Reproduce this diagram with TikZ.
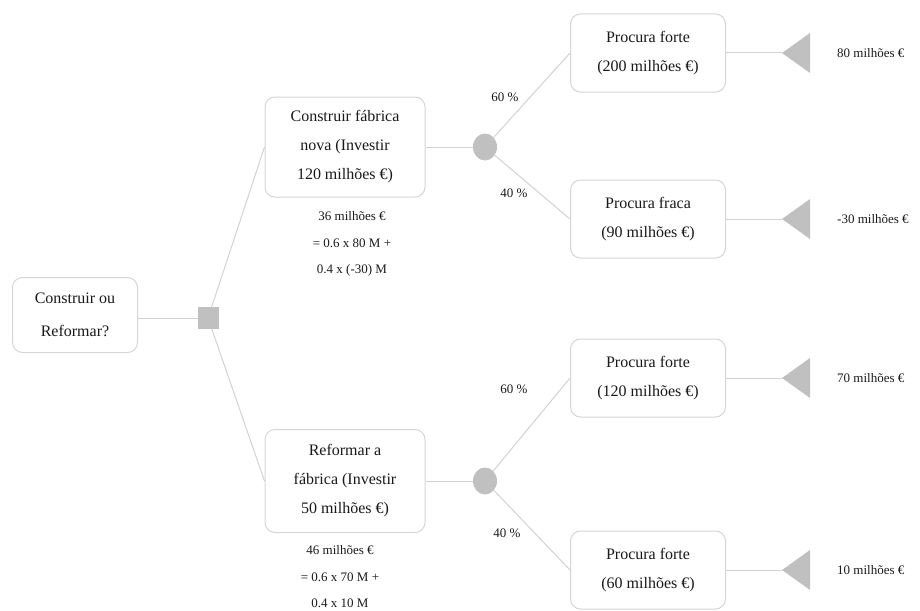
\documentclass[tikz,border=0pt]{standalone}
\usepackage{fontspec}
\setmainfont{Liberation Serif}
\usetikzlibrary{shapes.geometric}
\definecolor{edgegray}{RGB}{210,210,210}
\definecolor{shapegray}{RGB}{192,192,192}
\definecolor{boxline}{RGB}{214,214,214}
\definecolor{textdark}{RGB}{25,25,25}
\begin{document}
\begin{tikzpicture}[x=1pt,y=-1pt,
  box/.style={draw=boxline, line width=1pt, rounded corners=10pt, fill=white,
    align=center, inner sep=0pt, text=textdark, font=\fontsize{16}{29}\selectfont},
  outcome/.style={box, minimum width=155pt, minimum height=78pt},
  link/.style={draw=edgegray, line width=1pt},
  chance/.style={ellipse, fill=shapegray, minimum width=24pt, minimum height=27pt, inner sep=0pt, outer sep=0pt},
  decision/.style={rectangle, fill=shapegray, minimum width=21pt, minimum height=22pt, inner sep=0pt, outer sep=0pt},
  payoff/.style={isosceles triangle, shape border rotate=180, isosceles triangle stretches,
    fill=shapegray, minimum width=40pt, minimum height=28pt, inner sep=0pt, outer sep=0pt, anchor=apex},
  note/.style={align=center, inner sep=0pt, text=textdark, font=\fontsize{13}{26.5}\selectfont},
  value/.style={anchor=west, inner sep=0pt, text=textdark, font=\fontsize{13}{15}\selectfont},
  prob/.style={inner sep=0pt, text=textdark, font=\fontsize{13}{15}\selectfont}]
\useasboundingbox (0,0) rectangle (920,610);

% decision root
\node[box, minimum width=125pt, minimum height=75pt, font=\fontsize{16}{33}\selectfont] (root) at (75,315) {Construir ou\\Reformar?};
\node[decision] (dec) at (208,318) {};

% the two options
\node[box, minimum width=160pt, minimum height=100pt] (b1) at (345,147) {Construir fábrica\\nova (Investir\\120 milhões €)};
\node[box, minimum width=160pt, minimum height=103pt] (b2) at (345,481) {Reformar a\\fábrica (Investir\\50 milhões €)};

% expected values
\node[note] (ev1) at (352,244) {36 milhões €\\= 0.6 x 80 M +\\0.4 x (-30) M};
\node[note] (ev2) at (340,577) {46 milhões €\\= 0.6 x 70 M +\\0.4 x 10 M};

% chance nodes
\node[chance] (c1) at (485,147) {};
\node[chance] (c2) at (485,481) {};

% demand scenarios
\node[outcome] (p1) at (648,53) {Procura forte\\(200 milhões €)};
\node[outcome] (p2) at (648,219) {Procura fraca\\(90 milhões €)};
\node[outcome] (p3) at (648,378) {Procura forte\\(120 milhões €)};
\node[outcome] (p4) at (648,570) {Procura forte\\(60 milhões €)};

% terminal payoffs
\node[payoff] (t1) at (782,53) {};
\node[payoff] (t2) at (782,219) {};
\node[payoff] (t3) at (782,378) {};
\node[payoff] (t4) at (782,570) {};
\node[value] (v1) at (837,53) {80 milhões €};
\node[value] (v2) at (837,219) {-30 milhões €};
\node[value] (v3) at (837,378) {70 milhões €};
\node[value] (v4) at (837,570) {10 milhões €};

% probabilities
\node[prob] (q1) at (505,97) {60 \%};
\node[prob] (q2) at (514,193) {40 \%};
\node[prob] (q3) at (514,389) {60 \%};
\node[prob] (q4) at (507,533) {40 \%};

% connectors
\draw[link] (root.east |- dec) -- (dec);
\draw[link] (dec) -- (b1.west);
\draw[link] (dec) -- (b2.west);
\draw[link] (b1) -- (c1);
\draw[link] (b2) -- (c2);
\draw[link] (c1) -- (p1.west);
\draw[link] (c1) -- (p2.west);
\draw[link] (c2) -- (p3.west);
\draw[link] (c2) -- (p4.west);
\draw[link] (p1) -- (t1);
\draw[link] (p2) -- (t2);
\draw[link] (p3) -- (t3);
\draw[link] (p4) -- (t4);
\end{tikzpicture}
\end{document}
